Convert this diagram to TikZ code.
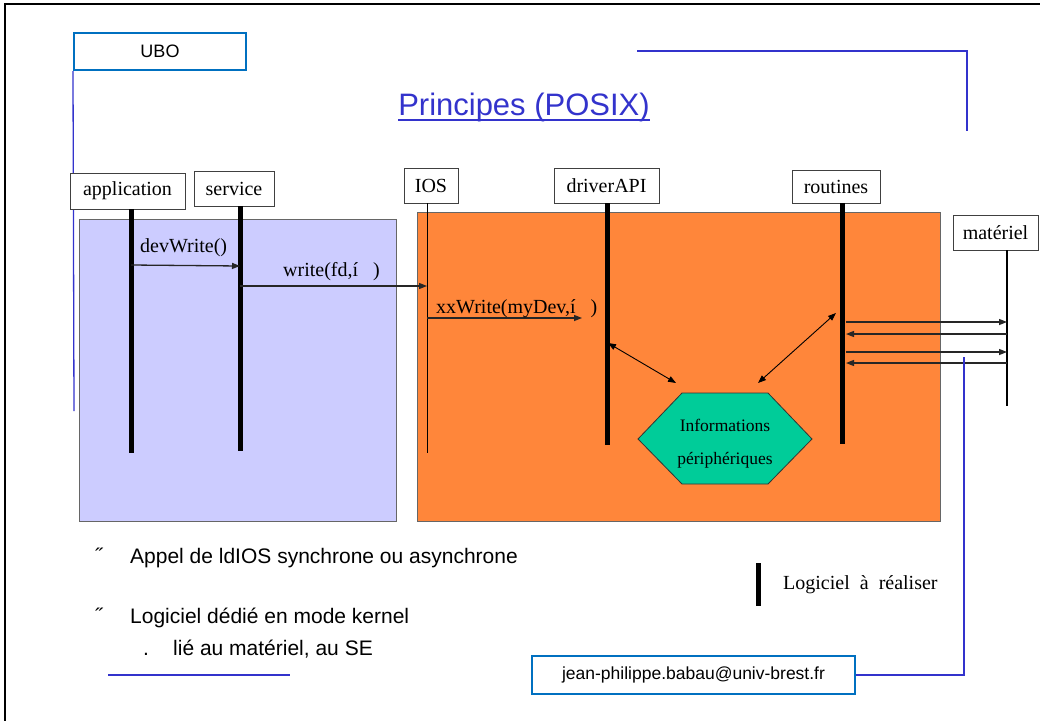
\documentclass[tikz,border=0pt]{standalone}
\usepackage{fontspec}
\setmainfont{Liberation Serif}
\newfontfamily\arial{Liberation Sans}
\usetikzlibrary{arrows.meta}
\definecolor{lav}{RGB}{204,204,255}
\definecolor{orng}{RGB}{255,134,58}
\definecolor{tealx}{RGB}{0,204,153}
\definecolor{lineblue}{RGB}{51,51,204}
\definecolor{boxblue}{RGB}{0,112,192}
\begin{document}
\begin{tikzpicture}[x=1pt,y=-1pt,
  lbl/.style={draw=black!75, fill=white, inner sep=0pt, line width=0.9pt, font=\fontsize{20}{22}\selectfont},
  bluebox/.style={draw=boxblue, fill=white, line width=2pt, inner sep=0pt},
  life/.style={line width=5pt},
  msg/.style={line width=1.3pt, draw=black!85, -{Triangle[length=8pt,width=6pt]}},
  dbl/.style={line width=0.9pt, {Triangle[length=8pt,width=6pt]}-{Triangle[length=8pt,width=6pt]}},
  bline/.style={draw=lineblue, line width=1.3pt},
  ttext/.style={font=\fontsize{20}{22}\selectfont, inner sep=0pt},
  htext/.style={font=\fontsize{17.5}{20}\selectfont, inner sep=0pt, anchor=base},
  atext/.style={font=\arial\fontsize{21}{24}\selectfont, inner sep=0pt}]
\useasboundingbox (0,0) rectangle (1040,720);
% frame
\draw[line width=2.5pt] (5,760) -- (5,4) -- (1080,4);
% regions
\draw[fill=lav, draw=black!60, line width=0.9pt] (79,219) rectangle (396,521);
\draw[fill=orng, draw=black!60, line width=0.9pt] (417,212) rectangle (940,521);
% header boxes
\node[bluebox, minimum width=172pt, minimum height=37pt] (ubo) at (160,51.5) {\arial\fontsize{18}{20}\selectfont UBO};
\node[font=\arial\fontsize{31}{34}\selectfont, text=lineblue, anchor=base, inner sep=0pt] (title) at (524,115) {Principes (POSIX)};
\draw[draw=lineblue, line width=2pt] ([yshift=-5pt]title.base west) -- ([yshift=-5pt]title.base east);
\coordinate (ubo1) at (74,411);
\draw[bline] (ubo.south west) -- (ubo1);
\coordinate (tr1) at (637,51);
\coordinate (tr2) at (967,51);
\coordinate (tr3) at (967,131);
\draw[bline] (tr1) -- (tr2) -- (tr3);
% lifeline boxes
\node[lbl, minimum width=115pt, minimum height=36pt] (app) at (127.5,191) {application};
\node[lbl, minimum width=80pt, minimum height=35pt] (srv) at (234,188.5) {service};
\node[lbl, minimum width=54pt, minimum height=35pt] (ios) at (431,185.5) {IOS};
\node[lbl, minimum width=105pt, minimum height=35pt] (drv) at (606.5,185.5) {driverAPI};
\node[lbl, minimum width=88pt, minimum height=33pt] (rout) at (836,186.5) {routines};
\node[lbl, minimum width=85pt, minimum height=35pt] (mat) at (995.5,232.5) {matériel};
% lifelines
\coordinate (appE) at (131,453);
\coordinate (srvE) at (240,451);
\coordinate (iosE) at (427,453);
\coordinate (drvE) at (607,445);
\coordinate (routE) at (842,444);
\coordinate (matE) at (1007,406);
\draw[life] (appE |- app.south) -- (appE);
\draw[life] (srvE |- srv.south) -- (srvE);
\draw[line width=1pt] (iosE |- ios.south) -- (iosE);
\draw[life] (drvE |- drv.south) -- (drvE);
\draw[life] (routE |- rout.south) -- (routE);
\draw[line width=2.5pt] (matE |- mat.south) -- (matE);
% messages
\coordinate (m1a) at (131,265);
\coordinate (m1b) at (240,266);
\draw[msg] (m1a) -- (m1b);
\node[ttext, anchor=base west] (l1) at (140,252) {devWrite()};
\coordinate (m2a) at (240,286);
\coordinate (m2b) at (427,286);
\draw[msg] (m2a) -- (m2b);
\node[ttext, anchor=base west] (l2) at (283,276) {write(fd,í\ \ \ )};
\coordinate (m3a) at (427,318);
\coordinate (m3b) at (582,318);
\draw[msg] (m3a) -- (m3b);
\node[ttext, anchor=base west] (l3) at (436,313) {xxWrite(myDev,í\ \ \ )};
% hexagon
\draw[fill=tealx, draw=black!80, line width=0.8pt] (682,393) -- (768,393) -- (812,439) -- (768,484) -- (682,484) -- (638,439) -- cycle;
\node[htext] (info1) at (725,431) {Informations};
\node[htext] (info2) at (725,464) {périphériques};
% double arrows
\coordinate (d1a) at (608,343);
\coordinate (d1b) at (676,383);
\draw[dbl] (d1a) -- (d1b);
\coordinate (d2a) at (758,383);
\coordinate (d2b) at (836,313);
\draw[dbl] (d2a) -- (d2b);
% routines <-> materiel
\coordinate (r1) at (846,322); \coordinate (h1) at (1007,322);
\coordinate (r2) at (846,334); \coordinate (h2) at (1007,334);
\coordinate (r3) at (846,352); \coordinate (h3) at (1007,352);
\coordinate (r4) at (846,363); \coordinate (h4) at (1007,363);
\draw[msg] (r1) -- (h1);
\draw[msg] (h2) -- (r2);
\draw[msg] (r3) -- (h3);
\draw[msg] (h4) -- (r4);
% bottom text
\node[atext, anchor=base west] (b1) at (95,563) {˝};
\node[atext, anchor=base west] (t1) at (130,563) {Appel de ldIOS synchrone ou asynchrone};
\node[atext, anchor=base west] (b2) at (95,623) {˝};
\node[atext, anchor=base west] (t2) at (130,623) {Logiciel dédié en mode kernel};
\node[atext, anchor=base west] (b3) at (143,655) {.};
\node[atext, anchor=base west] (t3) at (173,655) {lié au matériel, au SE};
\coordinate (bl1) at (108,675);
\coordinate (bl2) at (290,675);
\draw[bline] (bl1) -- (bl2);
% legend
\coordinate (lg1) at (758,563);
\coordinate (lg2) at (758,606);
\draw[line width=5pt] (lg1) -- (lg2);
\node[ttext, anchor=base west] (lgt) at (783,589) {Logiciel \ à \ réaliser};
% email
\node[bluebox, minimum width=323pt, minimum height=38pt] (mail) at (693.5,675) {\arial\fontsize{17.5}{20}\selectfont jean-philippe.babau@univ-brest.fr};
\coordinate (e1) at (964,675);
\coordinate (e2) at (964,357);
\draw[bline] (mail.east) -- (e1) -- (e2);
\end{tikzpicture}
\end{document}
